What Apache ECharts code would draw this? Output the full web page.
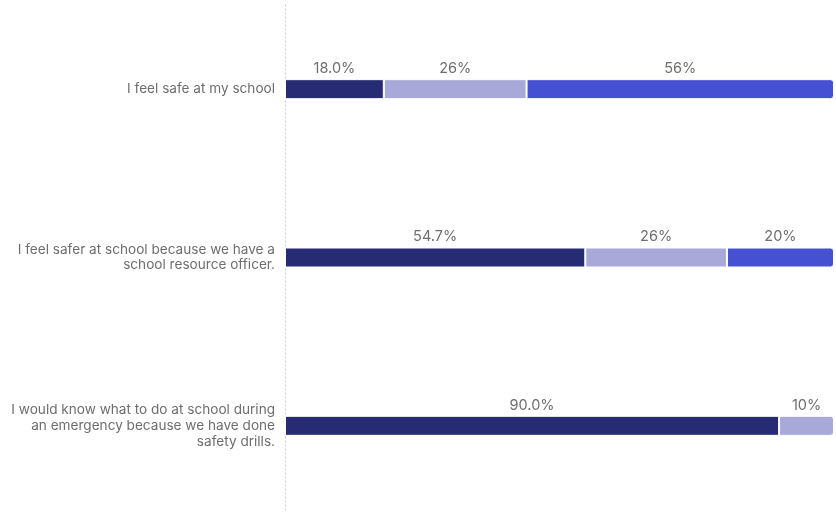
<!DOCTYPE html>
<html>
<head>
<meta charset="utf-8">
<style>
  html, body { margin: 0; padding: 0; background: #fff; }
  #chart { width: 836px; height: 514px; }
</style>
<script src="https://cdn.jsdelivr.net/npm/echarts@6/dist/echarts.min.js"></script>
</head>
<body>
<div id="chart"></div>
<script>
const categories = [
  'I feel safe at my school',
  'I feel safer at school because we have a\nschool resource officer.',
  'I would know what to do at school during\nan emergency because we have done\nsafety drills.'
]
const seriesA = [18.0, 54.7, 90.0]
const seriesB = [26, 25.8, 10]
const seriesC = [56, 19.5, 0]

const colors = ['#272b74', '#a8a9d8', '#4650d2']

const chart = echarts.init(document.getElementById('chart'))

// round the right end of whichever segment closes each row
const lastIdx = categories.map((_, i) => (seriesC[i] > 0 ? 2 : seriesB[i] > 0 ? 1 : 0))

function makeSeries(idx, data, decimals) {
  return {
    type: 'bar',
    stack: 'total',
    barWidth: 20,
    data: data.map((v, i) => ({
      value: v,
      itemStyle: { borderRadius: lastIdx[i] === idx ? [0, 3, 3, 0] : 0 }
    })),
    itemStyle: { color: colors[idx], borderColor: '#fff', borderWidth: 1 },
    label: {
      show: true,
      position: 'top',
      distance: 3,
      color: '#6e6e6e',
      fontFamily: 'Inter',
      fontSize: 14.5,
      formatter: (p) => (p.value > 0 ? p.value.toFixed(decimals) + '%' : '')
    }
  }
}

const option = {
  animation: false,
  grid: { left: 285, right: 2, top: 5, bottom: 4 },
  xAxis: {
    type: 'value',
    min: 0,
    max: 100,
    show: false
  },
  yAxis: {
    type: 'category',
    inverse: true,
    data: categories,
    axisTick: { show: false },
    axisLine: { show: true, lineStyle: { color: '#c8c8c8', type: [1, 3], width: 1 } },
    axisLabel: {
      margin: 10,
      color: '#6e6e6e',
      fontFamily: 'Inter',
      fontSize: 13.6,
      lineHeight: 15.8,
      align: 'right'
    }
  },
  series: [
    makeSeries(0, seriesA, 1),
    makeSeries(1, seriesB, 0),
    makeSeries(2, seriesC, 0)
  ]
}

chart.setOption(option)
window.addEventListener('resize', () => chart.resize())
</script>
</body>
</html>
